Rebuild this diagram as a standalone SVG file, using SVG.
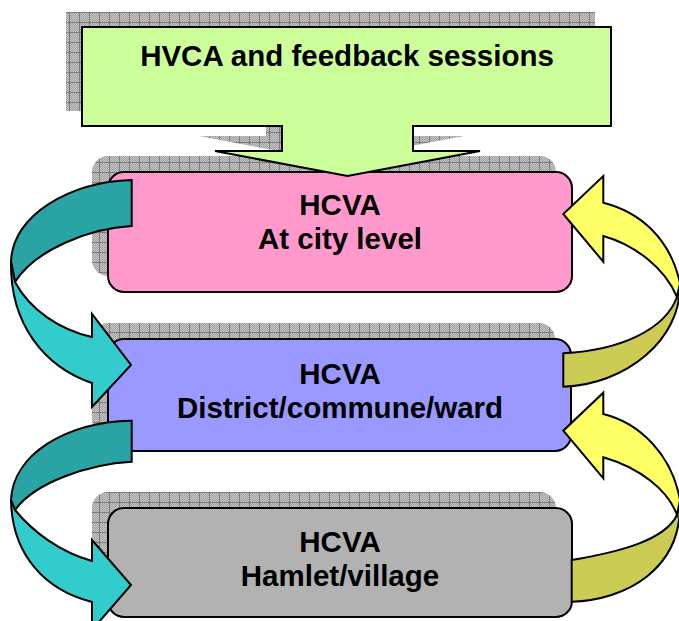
<svg xmlns="http://www.w3.org/2000/svg" width="679" height="621" viewBox="0 0 679 621">
<defs>
<pattern id="fine" width="2" height="2" patternUnits="userSpaceOnUse"><rect width="2" height="2" fill="#c8c8c8"/><rect width="1" height="1" fill="#9e9e9e"/><rect x="1" y="1" width="1" height="1" fill="#9e9e9e"/></pattern>
<pattern id="grid" x="9" y="2" width="10" height="10" patternUnits="userSpaceOnUse"><rect width="10" height="10" fill="url(#fine)"/><path d="M0,0.5H10M0.5,0V10" stroke="#7c7c7c" stroke-width="1"/></pattern>
<style>
.sh{fill:url(#grid);stroke:none}
.box{stroke:#000;stroke-width:2}
.arr{stroke:#000;stroke-width:2;stroke-linejoin:miter}
.t{font-family:"Liberation Sans",Arial,sans-serif;font-weight:bold;font-size:29.5px;fill:#000;text-anchor:middle}
</style>
</defs>
<g id="shadows">
<rect class="sh" x="92" y="156" width="464" height="120" rx="16"/>
<rect class="sh" x="92" y="323" width="463" height="112" rx="16"/>
<rect class="sh" x="92" y="492" width="464" height="109" rx="16"/>
<path class="sh" d="M66,12H595V111H397V136H464L331,161L199,136H266V111H66Z"/>
</g>
<g id="node-city">
<rect class="box" x="108" y="172" width="464" height="120" rx="16" fill="#FF99CC"/>
<text class="t" x="340" y="215">HCVA</text>
<text class="t" x="340" y="249">At city level</text>
</g>
<g id="node-district">
<rect class="box" x="108" y="339" width="463" height="112" rx="16" fill="#9999FF"/>
<text class="t" x="340" y="384">HCVA</text>
<text class="t" x="340" y="418">District/commune/ward</text>
</g>
<g id="node-hamlet">
<rect class="box" x="108" y="508" width="464" height="109" rx="16" fill="#B2B2B2"/>
<text class="t" x="340" y="552">HCVA</text>
<text class="t" x="340" y="586">Hamlet/village</text>
</g>
<g id="node-feedback">
<path class="box" fill="#CCFF99" d="M82,27H611V126H413V151H480L347.5,176L215,151H282V126H82Z"/>
<text class="t" x="347" y="66">HVCA and feedback sessions</text>
</g>
<g id="connectors">
<path class="arr" fill="#29A3A3" d="M131.7,180L131.7,226C90,228 35,250 15,282L11,262C12,215 70,182 131.7,180Z"/>
<path class="arr" fill="#33CCCC" d="M15,282C30,310 60,330 92,337L92,314L131,365L92,407L92,383C45,367 10,325 11,262Z"/>
<path class="arr" fill="#29A3A3" d="M131.7,420.7L131.7,461.7C90,464 35,482 15,510L11,500C13,455 65,422 131.7,420.7Z"/>
<path class="arr" fill="#33CCCC" d="M15,510C33,532 60,552 92,561L92,540L131,585L92,630L92,602C45,590 12,555 11,500Z"/>
<path class="arr" fill="#CCCC55" d="M680,283C682,340 625,385 563.3,386.7L563.3,353.3C620,350 665,330 677,297Z"/>
<path class="arr" fill="#FFFF66" d="M603.3,202.7L603.3,176L563.3,214L603.3,261.7L603.3,236C635,245 665,268 677,297L680,283C670,238 640,212 603.3,202.7Z"/>
<path class="arr" fill="#CCCC55" d="M680,500C683,570 625,600 571.7,601.7L571.7,560C620,552 665,540 677,515Z"/>
<path class="arr" fill="#FFFF66" d="M603.3,414L603.3,392.7L563.3,430.7L603.3,478.3L603.3,457.3C640,468 668,490 677,515L680,500C672,455 640,423 603.3,414Z"/>
</g>
</svg>
